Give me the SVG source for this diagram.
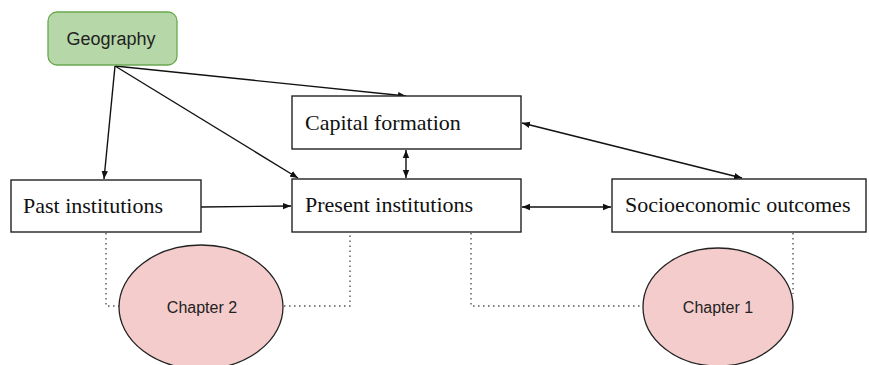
<svg xmlns="http://www.w3.org/2000/svg" width="869" height="365" viewBox="0 0 869 365">
<defs>
<style>
.box{fill:#fff;stroke:#222;stroke-width:1.4}
.lbl{font-family:"Liberation Serif",serif;font-size:22px;fill:#111}
.sans{font-family:"Liberation Sans",Arial,sans-serif;font-size:16px;fill:#222;text-anchor:middle}
.geo{font-size:18px}
.ch{fill:#f4cccc;stroke:#222;stroke-width:1.3}
.edge{fill:none;stroke:#111;stroke-width:1.4}
.dot{fill:none;stroke:#555;stroke-width:1.4;stroke-dasharray:1.5 3.5}
</style>
<marker id="ah" viewBox="0 0 10 10" refX="10" refY="5" markerWidth="8" markerHeight="8" orient="auto-start-reverse" markerUnits="userSpaceOnUse">
<path d="M0,1 L10,5 L0,9 z" fill="#111"/>
</marker>
</defs>
<rect width="869" height="365" fill="#fff"/>
<g id="connectors">
<line class="edge" x1="115" y1="66" x2="104" y2="179" marker-end="url(#ah)"/>
<line class="edge" x1="115" y1="66" x2="298" y2="178" marker-end="url(#ah)"/>
<line class="edge" x1="115" y1="66" x2="406" y2="96" marker-end="url(#ah)"/>
<line class="edge" x1="201" y1="207" x2="291" y2="206" marker-end="url(#ah)"/>
<line class="edge" x1="522" y1="207" x2="611" y2="207" marker-start="url(#ah)" marker-end="url(#ah)"/>
<line class="edge" x1="406" y1="150" x2="406" y2="178" marker-start="url(#ah)" marker-end="url(#ah)"/>
<line class="edge" x1="522" y1="123" x2="742" y2="178" marker-start="url(#ah)" marker-end="url(#ah)"/>
<polyline class="dot" points="106,233 106,306 119,306"/>
<polyline class="dot" points="284,306 350,306 350,233"/>
<polyline class="dot" points="471,233 471,306 643,306"/>
<polyline class="dot" points="793,233 793,294"/>
</g>
<g id="geography">
<rect x="48" y="12" width="129" height="53" rx="9" fill="#b6d7a8" stroke="#6aa84f" stroke-width="1.3"/>
<text class="sans geo" x="111" y="45">Geography</text>
</g>
<g id="capital-formation">
<rect class="box" x="292" y="96" width="229" height="53"/>
<text class="lbl" x="305" y="130">Capital formation</text>
</g>
<g id="past-institutions">
<rect class="box" x="11" y="180" width="190" height="52"/>
<text class="lbl" x="23" y="213">Past institutions</text>
</g>
<g id="present-institutions">
<rect class="box" x="292" y="179" width="229" height="53"/>
<text class="lbl" x="305" y="212">Present institutions</text>
</g>
<g id="socioeconomic-outcomes">
<rect class="box" x="612" y="179" width="254" height="53"/>
<text class="lbl" x="625" y="212">Socioeconomic outcomes</text>
</g>
<g id="chapter-2">
<ellipse class="ch" cx="201" cy="307" rx="82" ry="62"/>
<text class="sans" x="202" y="313">Chapter 2</text>
</g>
<g id="chapter-1">
<ellipse class="ch" cx="718" cy="307" rx="75" ry="59"/>
<text class="sans" x="718" y="313">Chapter 1</text>
</g>
</svg>
